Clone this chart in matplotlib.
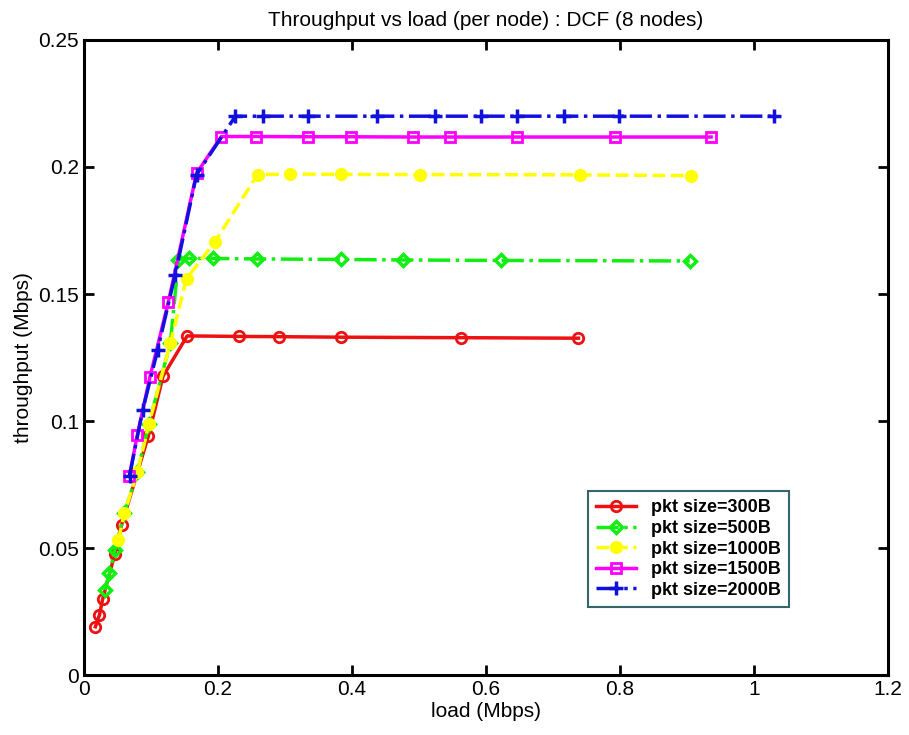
import matplotlib.pyplot as plt

# Load (Mbps) and throughput (Mbps) per packet size
load_300 = [0.017, 0.023, 0.028, 0.046, 0.056, 0.096, 0.118, 0.154, 0.231, 0.291, 0.384, 0.562, 0.738]
thr_300 = [0.019, 0.0236, 0.030, 0.0476, 0.059, 0.094, 0.1177, 0.1335, 0.1333, 0.1332, 0.1330, 0.1328, 0.1326]

load_500 = [0.031, 0.038, 0.046, 0.0602, 0.0796, 0.097, 0.129, 0.141, 0.156, 0.193, 0.258, 0.384, 0.476, 0.622, 0.904]
thr_500 = [0.0335, 0.040, 0.0492, 0.0637, 0.0798, 0.099, 0.1308, 0.1635, 0.164, 0.164, 0.1638, 0.1636, 0.1634, 0.1632, 0.163]

load_1000 = [0.0513, 0.0602, 0.0796, 0.097, 0.129, 0.153, 0.1955, 0.259, 0.307, 0.383, 0.502, 0.740, 0.906]
thr_1000 = [0.0531, 0.0637, 0.0798, 0.099, 0.1308, 0.156, 0.1706, 0.197, 0.1972, 0.1971, 0.197, 0.1969, 0.1966]

load_1500 = [0.0677, 0.0796, 0.0985, 0.126, 0.168, 0.205, 0.256, 0.335, 0.398, 0.491, 0.546, 0.646, 0.793, 0.936]
thr_1500 = [0.0783, 0.0945, 0.1174, 0.147, 0.1975, 0.212, 0.212, 0.2119, 0.2119, 0.2118, 0.2118, 0.2118, 0.2118, 0.2118]

load_2000 = [0.068, 0.0876, 0.110, 0.136, 0.168, 0.226, 0.267, 0.334, 0.438, 0.524, 0.593, 0.647, 0.716, 0.799, 1.030]
thr_2000 = [0.0785, 0.1043, 0.128, 0.1575, 0.197, 0.220, 0.220, 0.220, 0.220, 0.220, 0.220, 0.220, 0.220, 0.220, 0.220]

plt.rcParams['font.family'] = ['Liberation Sans Narrow', 'Liberation Sans', 'DejaVu Sans']

fig = plt.figure(figsize=(9.09, 7.35), dpi=100)
ax = fig.add_axes([0.0924, 0.0816, 0.8845, 0.864])

ax.plot(load_300, thr_300, '-', color='#ee1111', lw=2.5, marker='o', ms=7.5,
        mfc='none', mec='#ee1111', mew=2, label='pkt size=300B')
ax.plot(load_500, thr_500, '-.', color='#11ee11', lw=2.5, marker='D', ms=6.5,
        mfc='none', mec='#11ee11', mew=2.5, label='pkt size=500B')
ax.plot(load_1000, thr_1000, '--', color='#ffff00', lw=2.5, marker='o', ms=8.5,
        mfc='#ffff00', mec='#ffff00', label='pkt size=1000B')
ax.plot(load_1500, thr_1500, '-', color='#ff00ff', lw=2.5, marker='s', ms=7.5,
        mfc='none', mec='#ff00ff', mew=2, label='pkt size=1500B')
ax.plot(load_2000, thr_2000, '-.', color='#1111dd', lw=2.5, marker='+', ms=10,
        mew=2.5, label='pkt size=2000B')

ax.set_xlim(0, 1.2)
ax.set_ylim(0, 0.25)
ax.set_xticks([0, 0.2, 0.4, 0.6, 0.8, 1, 1.2])
ax.set_xticklabels(['0', '0.2', '0.4', '0.6', '0.8', '1', '1.2'])
ax.set_yticks([0, 0.05, 0.1, 0.15, 0.2, 0.25])
ax.set_yticklabels(['0', '0.05', '0.1', '0.15', '0.2', '0.25'])
ax.tick_params(direction='in', length=7, width=2, labelsize=15, top=True, right=True)
for s in ax.spines.values():
    s.set_linewidth(2.2)

ax.set_xlabel('load (Mbps)', fontsize=15, labelpad=2)
ax.set_ylabel('throughput (Mbps)', fontsize=15)
ax.set_title('Throughput vs load (per node) : DCF (8 nodes)', fontsize=15, pad=10)

leg = ax.legend(loc='lower left', bbox_to_anchor=(0.616, 0.093), fancybox=False,
                edgecolor='#336666', framealpha=1, handlelength=2.2,
                borderpad=0.45, labelspacing=0.2, prop={'weight': 'bold', 'size': 13})
leg.get_frame().set_linewidth(1.5)

fig.savefig('out.png', dpi=100)
